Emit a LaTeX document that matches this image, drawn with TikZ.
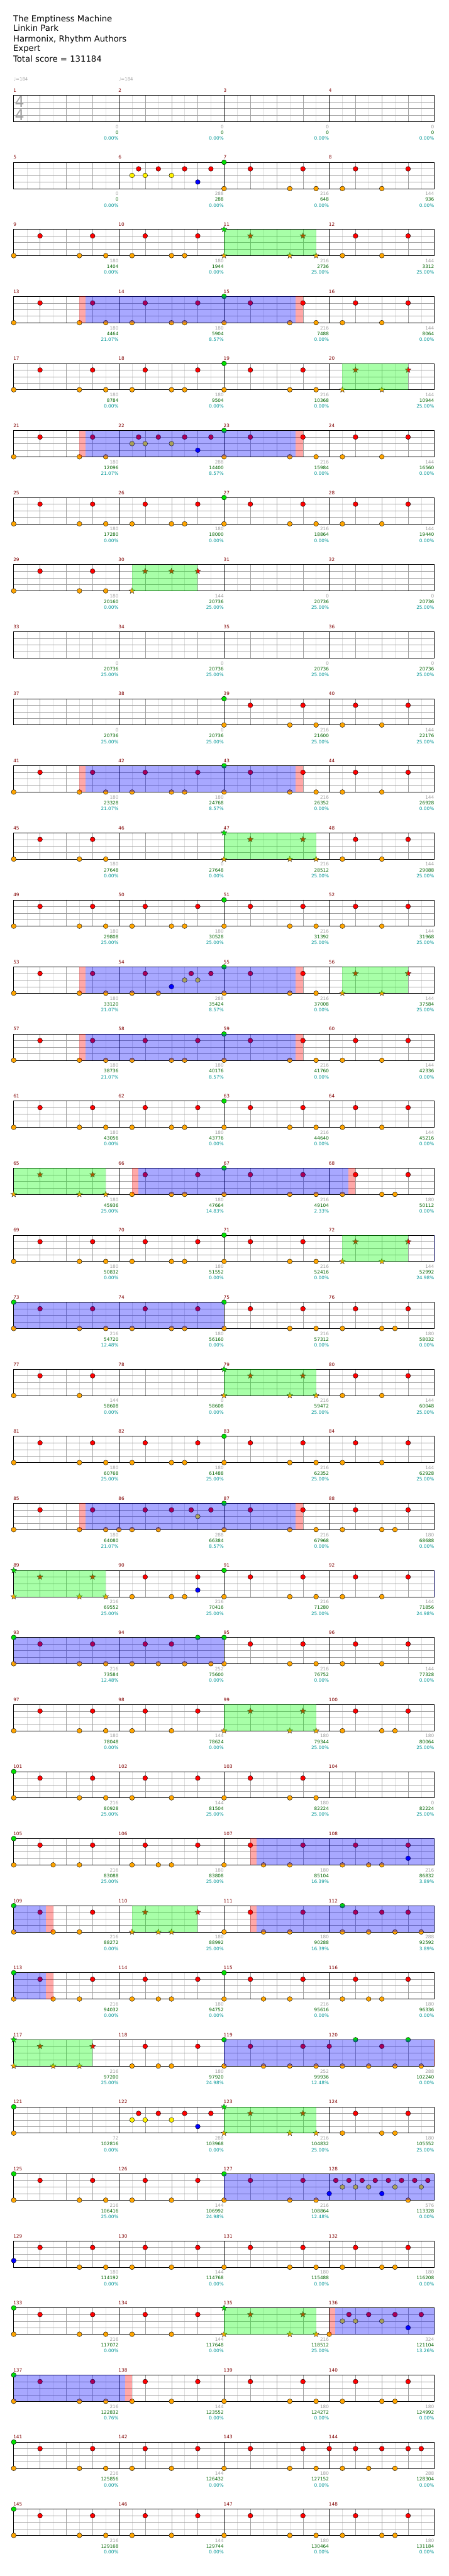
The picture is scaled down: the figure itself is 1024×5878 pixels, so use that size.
\documentclass[tikz,border=0pt]{standalone}
\usepackage{fontspec}
\setmainfont{DejaVu Sans}
\usepackage{xcolor}
\usepackage{tikz}
\usetikzlibrary{shapes.geometric}

\definecolor{barred}{RGB}{128,0,0}
\definecolor{scgray}{RGB}{160,160,160}
\definecolor{scgreen}{RGB}{0,100,0}
\definecolor{scteal}{RGB}{0,150,150}
\definecolor{kickor}{RGB}{255,165,0}
\definecolor{padgrn}{RGB}{0,225,0}
\definecolor{gridlt}{RGB}{222,222,222}
\definecolor{gridmd}{RGB}{160,160,160}

% one staff row: grid, bar lines, bar numbers (#1 = first bar)
\newcommand{\staffrow}[1]{%
  \foreach \i in {1,3,...,31} \draw[gridlt] (30*\i,0) -- (30*\i,60);
  \foreach \i in {1,2,3,5,6,7,9,10,11,13,14,15} \draw[gridmd] (60*\i,0) -- (60*\i,60);
  \foreach \j in {15,30,45} \draw[gridmd] (0,\j) -- (960,\j);
  \foreach \i in {4,8,12} \draw[black] (60*\i,0) -- (60*\i,60);
  \draw[black, line width=0.9pt] (0,0) rectangle (960,60);
  \foreach \i in {0,...,3} {
    \pgfmathtruncatemacro{\barno}{#1+\i}
    \node[barlbl] at (240*\i-1,-7.3) {\barno};
  }%
}
% notes of one lane (#1 style, #2 lane, #3 beats)
\newcommand{\hits}[3]{\foreach \b in {#3} \node[#1] at ({60*\b},{15*#2}) {};}
% shaded zone from beat #2 to beat #3
\newcommand{\zone}[3]{\fill[#1] ({60*#2},0) rectangle ({60*#3},60);}
% score lines under the four bars
\newcommand{\scores}[1]{%
  \foreach \sa/\sb/\sc [count=\i] in {#1} {
    \node[sclbl, text=scgray] at (240*\i-0.6,75.7) {\sa};
    \node[sclbl, text=scgreen] at (240*\i-0.6,88.7) {\sb};
    \node[sclbl, text=scteal] at (240*\i-0.6,102) {\sc\%};
  }%
}
% the usual groove
\newcommand{\grooveA}{%
  \hits{rd}{1}{1,3,5,7,9,11,13,15}
  \hits{kk}{4}{0,2.5,3.5,4.5,6,6.5,8,10.5,11.5,12.5,14}
  \hits{gn}{0}{8}%
}

\begin{document}
\begin{tikzpicture}[x=1pt, y=-1pt,
    onrow/.style={shift={(31.3,{217.3+153*#1})}},
    note/.style={circle, draw=black, line width=0.6pt, inner sep=0pt, minimum size=11pt},
    rd/.style={note, fill=red},
    yl/.style={note, fill=yellow},
    bl/.style={note, fill=blue},
    gn/.style={note, fill=padgrn},
    kk/.style={note, fill=kickor},
    starnote/.style={star, star points=5, star point ratio=2.3, draw=black!80, line width=0.5pt, inner sep=0pt, minimum size=14pt},
    rdst/.style={starnote, fill=red},
    kkst/.style={starnote, fill=kickor},
    gnst/.style={starnote, fill=padgrn},
    spzone/.style={fill=green, fill opacity=0.34},
    actzone/.style={fill=blue, fill opacity=0.34},
    winzone/.style={fill=red, fill opacity=0.34},
    barlbl/.style={anchor=base west, inner sep=0pt, text=barred, font=\fontsize{10.5}{12}\selectfont},
    sclbl/.style={anchor=base east, inner sep=0pt, font=\fontsize{10.5}{12}\selectfont},
    headline/.style={anchor=base west, inner sep=0pt, font=\fontsize{19}{23}\selectfont}]

    \useasboundingbox (0,0) rectangle (1024,5878);
    \fill[white] (0,0) rectangle (1024,5878);

    % 1. Header
    \node[headline] (songname) at (30,49.3) {The Emptiness Machine};
    \node[headline] (artist) at (30,71.7) {Linkin Park};
    \node[headline] (charter) at (30,95) {Harmonix, Rhythm Authors};
    \node[headline] (level) at (30,117.3) {Expert};
    \node[headline] (total) at (30,141) {Total score = 131184};

    % 2. Tempo marks
    \node[anchor=base west, inner sep=0pt, text=scgray, font=\fontsize{10}{12}\selectfont] (tempoone) at (31.3,184.3) {♩=184};
    \node[anchor=base west, inner sep=0pt, text=scgray, font=\fontsize{10}{12}\selectfont] (tempotwo) at (271.3,184.3) {♩=184};

    % 3. Rows of four bars
    % bars 1-4
    \begin{scope}[onrow=0]
        \staffrow{1}
        \node[anchor=base, inner sep=0pt, text=scgray, font=\fontsize{34}{34}\selectfont] (tsnum) at (13.4,27.7) {4};
        \node[anchor=base, inner sep=0pt, text=scgray, font=\fontsize{34}{34}\selectfont] (tsden) at (13.4,57.7) {4};
        \scores{0/0/0.00,0/0/0.00,0/0/0.00,0/0/0.00}
    \end{scope}
    % bars 5-8
    \begin{scope}[onrow=1]
        \staffrow{5}
        \hits{rd}{1}{4.75,5.5,6.5,7.5,9,11,13,15}
        \hits{yl}{2}{4.5,5,6}
        \hits{bl}{3}{7}
        \hits{gn}{0}{8}
        \hits{kk}{4}{8,10.5,11.5,12.5,14}
        \scores{0/0/0.00,288/288/0.00,216/648/0.00,144/936/0.00}
    \end{scope}
    % bars 9-12
    \begin{scope}[onrow=2]
        \staffrow{9}
        \hits{rd}{1}{1,3,5,7,13,15}
        \hits{kk}{4}{0,2.5,3.5,4.5,6,6.5,12.5,14}
        \hits{rdst}{1}{9,11}
        \hits{kkst}{4}{8,10.5,11.5}
        \hits{gnst}{0}{8}
        \zone{spzone}{8}{11.5}
        \scores{180/1404/0.00,180/1944/0.00,216/2736/25.00,144/3312/25.00}
    \end{scope}
    % bars 13-16
    \begin{scope}[onrow=3]
        \staffrow{13}
        \grooveA
        \zone{winzone}{2.5}{2.74}
        \zone{actzone}{2.74}{10.73}
        \zone{winzone}{10.73}{11}
        \scores{180/4464/21.07,180/5904/8.57,216/7488/0.00,144/8064/0.00}
    \end{scope}
    % bars 17-20
    \begin{scope}[onrow=4]
        \staffrow{17}
        \hits{rd}{1}{1,3,5,7,9,11}
        \hits{kk}{4}{0,2.5,3.5,4.5,6,6.5,8,10.5,11.5}
        \hits{gn}{0}{8}
        \hits{rdst}{1}{13,15}
        \hits{kkst}{4}{12.5,14}
        \zone{spzone}{12.5}{15}
        \scores{180/8784/0.00,180/9504/0.00,216/10368/0.00,144/10944/25.00}
    \end{scope}
    % bars 21-24
    \begin{scope}[onrow=5]
        \staffrow{21}
        \hits{rd}{1}{1,3,4.75,5.5,6.5,7.5,9,11,13,15}
        \hits{yl}{2}{4.5,5,6}
        \hits{bl}{3}{7}
        \hits{gn}{0}{8}
        \hits{kk}{4}{0,2.5,3.5,8,10.5,11.5,12.5,14}
        \zone{winzone}{2.5}{2.74}
        \zone{actzone}{2.74}{10.73}
        \zone{winzone}{10.73}{11}
        \scores{180/12096/21.07,288/14400/8.57,216/15984/0.00,144/16560/0.00}
    \end{scope}
    % bars 25-28
    \begin{scope}[onrow=6]
        \staffrow{25}
        \grooveA
        \scores{180/17280/0.00,180/18000/0.00,216/18864/0.00,144/19440/0.00}
    \end{scope}
    % bars 29-32
    \begin{scope}[onrow=7]
        \staffrow{29}
        \hits{rd}{1}{1,3}
        \hits{kk}{4}{0,2.5,3.5}
        \hits{rdst}{1}{5,6,7}
        \hits{kkst}{4}{4.5}
        \zone{spzone}{4.5}{7}
        \scores{180/20160/0.00,144/20736/25.00,0/20736/25.00,0/20736/25.00}
    \end{scope}
    % bars 33-36
    \begin{scope}[onrow=8]
        \staffrow{33}
        \scores{0/20736/25.00,0/20736/25.00,0/20736/25.00,0/20736/25.00}
    \end{scope}
    % bars 37-40
    \begin{scope}[onrow=9]
        \staffrow{37}
        \hits{rd}{1}{9,11,13,15}
        \hits{gn}{0}{8}
        \hits{kk}{4}{8,10.5,11.5,12.5,14}
        \scores{0/20736/25.00,0/20736/25.00,216/21600/25.00,144/22176/25.00}
    \end{scope}
    % bars 41-44
    \begin{scope}[onrow=10]
        \staffrow{41}
        \grooveA
        \zone{winzone}{2.5}{2.74}
        \zone{actzone}{2.74}{10.73}
        \zone{winzone}{10.73}{11}
        \scores{180/23328/21.07,180/24768/8.57,216/26352/0.00,144/26928/0.00}
    \end{scope}
    % bars 45-48
    \begin{scope}[onrow=11]
        \staffrow{45}
        \hits{rd}{1}{1,3,13,15}
        \hits{kk}{4}{0,2.5,3.5,12.5,14}
        \hits{rdst}{1}{9,11}
        \hits{kkst}{4}{8,10.5,11.5}
        \hits{gnst}{0}{8}
        \zone{spzone}{8}{11.5}
        \scores{180/27648/0.00,0/27648/0.00,216/28512/25.00,144/29088/25.00}
    \end{scope}
    % bars 49-52
    \begin{scope}[onrow=12]
        \staffrow{49}
        \grooveA
        \scores{180/29808/25.00,180/30528/25.00,216/31392/25.00,144/31968/25.00}
    \end{scope}
    % bars 53-56
    \begin{scope}[onrow=13]
        \staffrow{53}
        \hits{rd}{1}{1,3,5,6.75,7.5,9,11}
        \hits{yl}{2}{6.5,7}
        \hits{bl}{3}{6}
        \hits{gn}{0}{8}
        \hits{kk}{4}{0,2.5,3.5,4.5,5.5,8,10.5,11.5}
        \hits{rdst}{1}{13,15}
        \hits{kkst}{4}{12.5,14}
        \zone{winzone}{2.5}{2.74}
        \zone{actzone}{2.74}{10.73}
        \zone{winzone}{10.73}{11}
        \zone{spzone}{12.5}{15}
        \scores{180/33120/21.07,288/35424/8.57,216/37008/0.00,144/37584/25.00}
    \end{scope}
    % bars 57-60
    \begin{scope}[onrow=14]
        \staffrow{57}
        \grooveA
        \zone{winzone}{2.5}{2.74}
        \zone{actzone}{2.74}{10.73}
        \zone{winzone}{10.73}{11}
        \scores{180/38736/21.07,180/40176/8.57,216/41760/0.00,144/42336/0.00}
    \end{scope}
    % bars 61-64
    \begin{scope}[onrow=15]
        \staffrow{61}
        \grooveA
        \scores{180/43056/0.00,180/43776/0.00,216/44640/0.00,144/45216/0.00}
    \end{scope}
    % bars 65-68
    \begin{scope}[onrow=16]
        \staffrow{65}
        \hits{rdst}{1}{1,3}
        \hits{kkst}{4}{0,2.5,3.5}
        \hits{rd}{1}{5,7,9,11,13,15}
        \hits{kk}{4}{4.5,6,6.5,8,10.5,11.5,12.5,14,14.5}
        \hits{gn}{0}{8}
        \zone{spzone}{0}{3.5}
        \zone{winzone}{4.5}{4.73}
        \zone{actzone}{4.73}{12.73}
        \zone{winzone}{12.73}{13}
        \scores{180/45936/25.00,180/47664/14.83,216/49104/2.33,180/50112/0.00}
    \end{scope}
    % bars 69-72
    \begin{scope}[onrow=17]
        \staffrow{69}
        \hits{rd}{1}{1,3,5,7,9,11}
        \hits{kk}{4}{0,2.5,3.5,4.5,6,6.5,8,10.5,11.5}
        \hits{gn}{0}{8}
        \hits{rdst}{1}{13,15}
        \hits{kkst}{4}{12.5,14}
        \zone{spzone}{12.5}{15}
        \zone{actzone}{15.97}{16}
        \scores{180/50832/0.00,180/51552/0.00,216/52416/0.00,144/52992/24.98}
    \end{scope}
    % bars 73-76
    \begin{scope}[onrow=18]
        \staffrow{73}
        \hits{gn}{0}{0,8}
        \hits{rd}{1}{1,3,5,7,9,11,13,15}
        \hits{kk}{4}{0,2.5,3.5,4.5,6,6.5,8,10.5,11.5,12.5,14,14.5}
        \zone{actzone}{0}{8}
        \scores{216/54720/12.48,180/56160/0.00,216/57312/0.00,180/58032/0.00}
    \end{scope}
    % bars 77-80
    \begin{scope}[onrow=19]
        \staffrow{77}
        \hits{rd}{1}{1,3,13,15}
        \hits{kk}{4}{0,2.5,12.5,14}
        \hits{rdst}{1}{9,11}
        \hits{kkst}{4}{8,10.5,11.5}
        \hits{gnst}{0}{8}
        \zone{spzone}{8}{11.5}
        \scores{144/58608/0.00,0/58608/0.00,216/59472/25.00,144/60048/25.00}
    \end{scope}
    % bars 81-84
    \begin{scope}[onrow=20]
        \staffrow{81}
        \grooveA
        \scores{180/60768/25.00,180/61488/25.00,216/62352/25.00,144/62928/25.00}
    \end{scope}
    % bars 85-88
    \begin{scope}[onrow=21]
        \staffrow{85}
        \hits{rd}{1}{1,3,5,6,6.75,7.5,9,11,13,15}
        \hits{yl}{2}{7}
        \hits{gn}{0}{8}
        \hits{kk}{4}{0,2.5,3.5,4,4.5,5.5,8,10.5,11.5,12.5,14,14.5}
        \zone{winzone}{2.5}{2.74}
        \zone{actzone}{2.74}{10.73}
        \zone{winzone}{10.73}{11}
        \scores{180/64080/21.07,288/66384/8.57,216/67968/0.00,180/68688/0.00}
    \end{scope}
    % bars 89-92
    \begin{scope}[onrow=22]
        \staffrow{89}
        \hits{gnst}{0}{0}
        \hits{rdst}{1}{1,3}
        \hits{kkst}{4}{0,2.5,3.5}
        \hits{rd}{1}{5,7,9,11,13,15}
        \hits{bl}{3}{7}
        \hits{gn}{0}{8}
        \hits{kk}{4}{4.5,6,6.5,8,10.5,11.5,12.5,14}
        \zone{spzone}{0}{3.5}
        \zone{actzone}{15.97}{16}
        \scores{216/69552/25.00,216/70416/25.00,216/71280/25.00,144/71856/24.98}
    \end{scope}
    % bars 93-96
    \begin{scope}[onrow=23]
        \staffrow{93}
        \hits{gn}{0}{0,7,8}
        \hits{rd}{1}{1,3,5,6,9,11,13,15}
        \hits{kk}{4}{0,2.5,3.5,4.5,5.5,6.5,7.5,8,10.5,11.5,12.5,14}
        \zone{actzone}{0}{8}
        \scores{216/73584/12.48,252/75600/0.00,216/76752/0.00,144/77328/0.00}
    \end{scope}
    % bars 97-100
    \begin{scope}[onrow=24]
        \staffrow{97}
        \hits{rd}{1}{1,3,5,7,13,15}
        \hits{kk}{4}{0,2.5,3.5,4.5,6,12.5,14,14.5}
        \hits{rdst}{1}{9,11}
        \hits{kkst}{4}{8,10.5,11.5}
        \zone{spzone}{8}{11.5}
        \scores{180/78048/0.00,144/78624/0.00,180/79344/25.00,180/80064/25.00}
    \end{scope}
    % bars 101-104
    \begin{scope}[onrow=25]
        \staffrow{101}
        \hits{gn}{0}{0}
        \hits{rd}{1}{1,3,5,7,9,11}
        \hits{kk}{4}{0,2.5,3.5,4.5,6,8,10.5,11.5}
        \scores{216/80928/25.00,144/81504/25.00,180/82224/25.00,0/82224/25.00}
    \end{scope}
    % bars 105-108
    \begin{scope}[onrow=26]
        \staffrow{105}
        \hits{gn}{0}{0}
        \hits{rd}{1}{1,3,5,7,9,11,13,15}
        \hits{bl}{3}{15}
        \hits{kk}{4}{0,1.5,2.5,4.5,5.5,6,8,9.5,10.5,12.5,13.5,14}
        \zone{winzone}{9}{9.23}
        \zone{actzone}{9.23}{16}
        \scores{216/83088/25.00,180/83808/25.00,180/85104/16.39,216/86832/3.89}
    \end{scope}
    % bars 109-112
    \begin{scope}[onrow=27]
        \staffrow{109}
        \hits{gn}{0}{0,12.5}
        \hits{rd}{1}{1,3,9,11,13,14,15}
        \hits{kk}{4}{0,1.5,2.5,8,9.5,10.5,12.5,13.5,14.5,15.5}
        \hits{rdst}{1}{5,7}
        \hits{kkst}{4}{4.5,5.5,6}
        \zone{actzone}{0}{1.23}
        \zone{winzone}{1.23}{1.5}
        \zone{spzone}{4.5}{7}
        \zone{winzone}{9}{9.23}
        \zone{actzone}{9.23}{16}
        \scores{216/88272/0.00,180/88992/25.00,180/90288/16.39,288/92592/3.89}
    \end{scope}
    % bars 113-116
    \begin{scope}[onrow=28]
        \staffrow{113}
        \hits{gn}{0}{0,8}
        \hits{rd}{1}{1,3,5,7,9,11,13,15}
        \hits{kk}{4}{0,1.5,2.5,4.5,5.5,6,8,9.5,10.5,12.5,13.5,14}
        \zone{actzone}{0}{1.23}
        \zone{winzone}{1.23}{1.5}
        \scores{216/94032/0.00,180/94752/0.00,216/95616/0.00,180/96336/0.00}
    \end{scope}
    % bars 117-120
    \begin{scope}[onrow=29]
        \staffrow{117}
        \hits{gnst}{0}{0}
        \hits{rdst}{1}{1,3}
        \hits{kkst}{4}{0,1.5,2.5}
        \hits{gn}{0}{8,13,15}
        \hits{rd}{1}{5,7,9,11,12,14}
        \hits{kk}{4}{4.5,5.5,6,8,9.5,10.5,11.5,12.5,13.5,14.5,15.5}
        \zone{spzone}{0}{3}
        \zone{actzone}{8}{15.97}
        \zone{winzone}{15.97}{16}
        \scores{216/97200/25.00,180/97920/24.98,252/99936/12.48,288/102240/0.00}
    \end{scope}
    % bars 121-124
    \begin{scope}[onrow=30]
        \staffrow{121}
        \hits{gn}{0}{0}
        \hits{rd}{1}{4.75,5.5,6.5,7.5,13,15}
        \hits{yl}{2}{4.5,5,6}
        \hits{bl}{3}{7}
        \hits{kk}{4}{0,12.5,14,14.5}
        \hits{gnst}{0}{8}
        \hits{rdst}{1}{9,11}
        \hits{kkst}{4}{8,10.5,11.5}
        \zone{spzone}{8}{11.5}
        \scores{72/102816/0.00,288/103968/0.00,216/104832/25.00,180/105552/25.00}
    \end{scope}
    % bars 125-128
    \begin{scope}[onrow=31]
        \staffrow{125}
        \hits{gn}{0}{0,8}
        \hits{rd}{1}{1,3,5,7,9,11,12.25,12.75,13.25,13.75,14.25,14.75,15.25,15.75}
        \hits{yl}{2}{12.5,13,13.5,14.5,15.5}
        \hits{bl}{3}{12,14}
        \hits{kk}{4}{0,2.5,3.5,4.5,6,8,10.5,11.5,15}
        \zone{actzone}{8}{16}
        \scores{216/106416/25.00,144/106992/24.98,216/108864/12.48,576/113328/0.00}
    \end{scope}
    % bars 129-132
    \begin{scope}[onrow=32]
        \staffrow{129}
        \hits{bl}{3}{0}
        \hits{rd}{1}{1,3,5,7,9,11,13,15}
        \hits{kk}{4}{2.5,3.5,4.5,6,8,10.5,11.5,12.5,14,14.5}
        \scores{180/114192/0.00,144/114768/0.00,180/115488/0.00,180/116208/0.00}
    \end{scope}
    % bars 133-136
    \begin{scope}[onrow=33]
        \staffrow{133}
        \hits{gn}{0}{0}
        \hits{rd}{1}{1,3,5,7,12.75,13.5,14.5,15.5}
        \hits{yl}{2}{12.5,13,14}
        \hits{bl}{3}{15}
        \hits{kk}{4}{0,2.5,3.5,4.5,6,12}
        \hits{gnst}{0}{8}
        \hits{rdst}{1}{9,11}
        \hits{kkst}{4}{8,10.5,11.5}
        \zone{spzone}{8}{11.5}
        \zone{winzone}{12}{12.23}
        \zone{actzone}{12.23}{16}
        \scores{216/117072/0.00,144/117648/0.00,216/118512/25.00,324/121104/13.26}
    \end{scope}
    % bars 137-140
    \begin{scope}[onrow=34]
        \staffrow{137}
        \hits{gn}{0}{0}
        \hits{rd}{1}{1,3,5,7,9,11,13,15}
        \hits{kk}{4}{0,2.5,3.5,4.5,6,8,10.5,11.5,12.5,14,14.5}
        \zone{actzone}{0}{4.23}
        \zone{winzone}{4.23}{4.5}
        \scores{216/122832/0.76,144/123552/0.00,180/124272/0.00,180/124992/0.00}
    \end{scope}
    % bars 141-144
    \begin{scope}[onrow=35]
        \staffrow{141}
        \hits{gn}{0}{0}
        \hits{rd}{1}{1,3,5,7,9,11,12,13,14,15,15.5}
        \hits{kk}{4}{0,2.5,3.5,4.5,6,8,10.5,11.5,12.5,13.5,14.5}
        \scores{216/125856/0.00,144/126432/0.00,180/127152/0.00,288/128304/0.00}
    \end{scope}
    % bars 145-148
    \begin{scope}[onrow=36]
        \staffrow{145}
        \hits{gn}{0}{0}
        \hits{rd}{1}{1,3,5,7,9,11,13,15}
        \hits{kk}{4}{0,2.5,3.5,4.5,6,8,10.5,11.5,12.5,14,14.5}
        \scores{216/129168/0.00,144/129744/0.00,180/130464/0.00,180/131184/0.00}
    \end{scope}
\end{tikzpicture}
\end{document}
